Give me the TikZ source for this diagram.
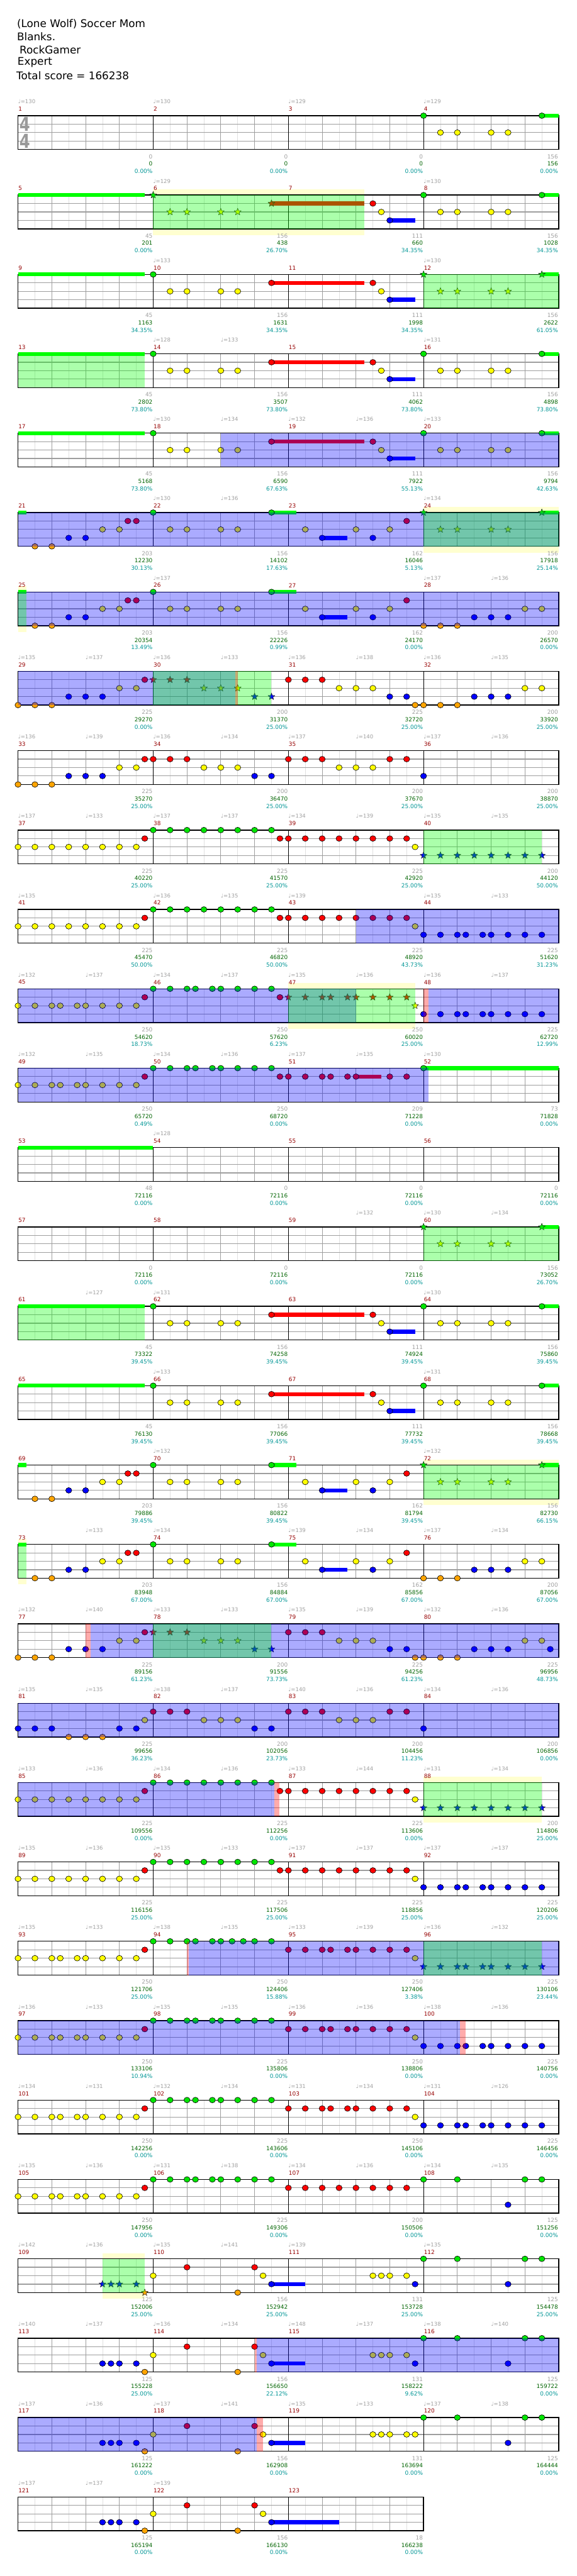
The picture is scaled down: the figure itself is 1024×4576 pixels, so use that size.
\documentclass[tikz,border=0pt]{standalone}
\usepackage{fontspec}
\setmainfont{DejaVu Sans}
\definecolor{lane0}{RGB}{0,230,0}
\definecolor{lane1}{RGB}{255,0,0}
\definecolor{lane2}{RGB}{255,255,0}
\definecolor{lane3}{RGB}{0,0,255}
\definecolor{lane4}{RGB}{255,165,0}
\definecolor{fillgreen}{RGB}{0,255,0}
\definecolor{solobg}{RGB}{255,255,208}
\definecolor{measred}{RGB}{150,0,0}
\definecolor{tempogray}{RGB}{160,160,160}
\definecolor{scoregreen}{RGB}{0,100,0}
\definecolor{pctteal}{RGB}{0,150,150}
% x of an eighth-note slot inside a row (0 = left edge, 8 per measure)
\newcommand{\px}[1]{{32+30*(#1)}}
% staff of a row, #1 = last slot (32 for four measures)
\newcommand{\staff}[1]{%
  \fill[white] (\px{0},0) rectangle (\px{#1},60);
  \foreach \e in {1,3,...,#1} \draw[eighthline] (\px{\e},0) -- (\px{\e},60);
  \foreach \e in {2,4,...,#1} \draw[beatline] (\px{\e},0) -- (\px{\e},60);
  \foreach \y in {15,30,45} \draw[laneline] (\px{0},\y) -- (\px{#1},\y);
  \foreach \e in {8,16,...,#1} \draw[barline] (\px{\e},0) -- (\px{\e},60);
  \draw[staffframe] (\px{0},0) rectangle (\px{#1},60);
}
% gems: #1 = lane (0 green ... 4 orange), #2 = slots
\newcommand{\nts}[2]{\foreach \e in {#2} \filldraw[gem, fill=lane#1] (\px{\e},{15*#1}) ellipse (5.4 and 5);}
\newcommand{\sts}[2]{\foreach \e in {#2} \filldraw[stargem, fill=lane#1] (\px{\e},{15*#1}) +(-90:6.5)
  \foreach \a in {1,...,9} { -- +({-90+36*\a}:{ifthenelse(mod(\a,2)==1,2.7,6.5)}) } -- cycle;}
\newcommand{\sus}[3]{\fill[lane#3] (\px{#1},{15*#3-3.6}) rectangle (\px{#2},{15*#3+3.6});}
\newcommand{\fillbar}[2]{\fill[fillgreen] (\px{#1},-3.4) rectangle (\px{#2},3.4);}
\newcommand{\solo}[2]{\fill[solobg] (\px{#1},-10) rectangle (\px{#2},71);}
\newcommand{\odzone}[2]{\fill[odgreen] (\px{#1},0) rectangle (\px{#2},60);}
\newcommand{\actzone}[2]{\fill[actblue] (\px{#1},0) rectangle (\px{#2},60);}
\newcommand{\missmark}[2]{\fill[endpink] (\px{#1},0) rectangle (\px{#2},60);}
% texts round a row
\newcommand{\measnums}[2]{\foreach \m in {1,...,#2} {\pgfmathtruncatemacro\num{#1+\m-1}
  \node[measnum] (meas-\num) at ({32.5+240*(\m-1)},-11.7) {\num};}}
\newcommand{\tempos}[2]{\foreach \e/\b in {#2} \node[tempo] (bpm-#1-\e) at (\px{\e},-24.7) {♩=\b};}
\newcommand{\scores}[2]{\foreach \s/\t/\p [count=\m] in {#2} {
  \node[scoregain] (gain-#1-\m) at ({31+240*\m},72.5) {\s};
  \node[scoretotal] (total-#1-\m) at ({31+240*\m},85.5) {\t};
  \node[scorepct] (pct-#1-\m) at ({31+240*\m},98.8) {\p};}}

\begin{document}
\begin{tikzpicture}[x=1pt, y=-1pt,
  rowat/.style={shift={(0,{205.5+141*(#1-1)})}},
  eighthline/.style={draw=black!12, line width=0.8pt},
  beatline/.style={draw=black!38, line width=1pt},
  laneline/.style={draw=black!38, line width=1.3pt},
  barline/.style={draw=black, line width=1pt},
  staffframe/.style={draw=black, line width=1.5pt},
  gem/.style={draw=black, line width=0.7pt},
  stargem/.style={draw=black!85, line width=0.6pt, line join=round},
  odgreen/.style={fill=green, fill opacity=0.33},
  actblue/.style={fill=blue, fill opacity=0.33},
  endpink/.style={fill=red, fill opacity=0.33},
  headline/.style={anchor=west, inner sep=0pt, font=\fontsize{18.8}{22}\selectfont},
  measnum/.style={anchor=west, inner sep=0pt, text=measred, font=\fontsize{10}{12}\selectfont},
  tempo/.style={anchor=west, inner sep=0pt, text=tempogray, font=\fontsize{9.5}{11}\selectfont},
  scoregain/.style={anchor=east, inner sep=0pt, text=tempogray, font=\fontsize{10}{12}\selectfont},
  scoretotal/.style={scoregain, text=scoregreen},
  scorepct/.style={scoregain, text=pctteal},
  timesig/.style={inner sep=0pt, text=black!40, font=\fontsize{34}{34}\selectfont\bfseries}]
  \useasboundingbox (0,0) rectangle (1024,4576);
  \fill[white] (0,0) rectangle (1024,4576);
  % ---------------------------------------------------------------- header
  \node[headline] (song) at (30,42.3) {(Lone Wolf) Soccer Mom};
  \node[headline] (band) at (30,65.3) {Blanks.};
  \node[headline] (charter) at (34.5,88.3) {RockGamer};
  \node[headline] (level) at (31,111) {Expert};
  \node[headline] (score) at (29,134.3) {Total score = 166238};
  % ---------------------------------------------------------------- row 1: measures 1-4
  \begin{scope}[rowat=1]
    \staff{32}
    \node[timesig] (sig-top) at (44,15.5) {\scalebox{0.8}[1]{4}};
    \node[timesig] (sig-bottom) at (44,45.5) {\scalebox{0.8}[1]{4}};
    \fillbar{31}{32}
    \nts{0}{24,31} \nts{2}{25,26,28,29}
    \measnums{1}{4}
    \tempos{1}{0/130,8/130,16/129,24/129}
    \scores{1}{0/0/0.00\%,0/0/0.00\%,0/0/0.00\%,156/156/0.00\%}
  \end{scope}
  % ---------------------------------------------------------------- row 2: measures 5-8
  \begin{scope}[rowat=2]
    \solo{8}{20.5}
    \staff{32}
    \fillbar{0}{7.5} \fillbar{31}{32}
    \sus{15}{20.5}{1} \sus{22}{23.5}{3}
    \sts{0}{8} \sts{1}{15} \sts{2}{9,10,12,13}
    \nts{0}{24,31} \nts{1}{21} \nts{2}{21.5,25,26,28,29} \nts{3}{22}
    \odzone{8}{20.5}
    \measnums{5}{4}
    \tempos{2}{8/129,24/130}
    \scores{2}{45/201/0.00\%,156/438/26.70\%,111/660/34.35\%,156/1028/34.35\%}
  \end{scope}
  % ---------------------------------------------------------------- row 3: measures 9-12
  \begin{scope}[rowat=3]
    \staff{32}
    \fillbar{0}{7.5} \fillbar{31}{32}
    \sus{15}{20.5}{1} \sus{22}{23.5}{3}
    \nts{0}{8} \nts{1}{15,21} \nts{2}{9,10,12,13,21.5} \nts{3}{22}
    \sts{0}{24,31} \sts{2}{25,26,28,29}
    \odzone{24}{32}
    \measnums{9}{4}
    \tempos{3}{8/133,24/130}
    \scores{3}{45/1163/34.35\%,156/1631/34.35\%,111/1998/34.35\%,156/2622/61.05\%}
  \end{scope}
  % ---------------------------------------------------------------- row 4: measures 13-16
  \begin{scope}[rowat=4]
    \staff{32}
    \fillbar{0}{7.5} \fillbar{31}{32}
    \sus{15}{20.5}{1} \sus{22}{23.5}{3}
    \nts{0}{8,24,31} \nts{1}{15,21} \nts{2}{9,10,12,13,21.5,25,26,28,29} \nts{3}{22}
    \odzone{0}{7.5}
    \measnums{13}{4}
    \tempos{4}{8/128,12/133,24/131}
    \scores{4}{45/2802/73.80\%,156/3507/73.80\%,111/4062/73.80\%,156/4898/73.80\%}
  \end{scope}
  % ---------------------------------------------------------------- row 5: measures 17-20
  \begin{scope}[rowat=5]
    \staff{32}
    \fillbar{0}{7.5} \fillbar{31}{32}
    \sus{15}{20.5}{1} \sus{22}{23.5}{3}
    \nts{0}{8,24,31} \nts{1}{15,21} \nts{2}{9,10,12,13,21.5,25,26,28,29} \nts{3}{22}
    \actzone{12}{32}
    \measnums{17}{4}
    \tempos{5}{8/130,12/134,16/132,20/136,24/133}
    \scores{5}{45/5168/73.80\%,156/6590/67.63\%,111/7922/55.13\%,156/9794/42.63\%}
  \end{scope}
  % ---------------------------------------------------------------- row 6: measures 21-24
  \begin{scope}[rowat=6]
    \solo{24}{32}
    \staff{32}
    \fillbar{0}{0.48} \fillbar{15}{16.48} \fillbar{31}{32}
    \sus{18}{19.5}{3}
    \nts{0}{8,15} \nts{1}{6.5,7,23} \nts{2}{5,6,9,10,12,13,17,20,22} \nts{3}{3,4,18,21} \nts{4}{1,2}
    \sts{0}{24,31} \sts{2}{25,26,28,29}
    \actzone{0}{32} \odzone{24}{32}
    \measnums{21}{4}
    \tempos{6}{8/130,12/136,24/134}
    \scores{6}{203/12230/30.13\%,156/14102/17.63\%,162/16046/5.13\%,156/17918/25.14\%}
  \end{scope}
  % ---------------------------------------------------------------- row 7: measures 25-28
  \begin{scope}[rowat=7]
    \solo{0}{0.48}
    \staff{32}
    \fillbar{0}{0.48} \fillbar{15}{16.48}
    \sus{18}{19.5}{3}
    \nts{0}{8,15} \nts{1}{6.5,7,23} \nts{2}{5,6,9,10,12,13,17,20,22,30,31}
    \nts{3}{3,4,18,21,27,28,29} \nts{4}{1,2,24,25,26}
    \actzone{0}{32} \odzone{0}{0.48}
    \measnums{25}{4}
    \tempos{7}{8/137,24/137,28/136}
    \scores{7}{203/20354/13.49\%,156/22226/0.99\%,162/24170/0.00\%,200/26570/0.00\%}
  \end{scope}
  % ---------------------------------------------------------------- row 8: measures 29-32
  \begin{scope}[rowat=8]
    \staff{32}
    \nts{1}{7.5,16,17,18} \nts{2}{6,7,19,20,21,30,31}
    \nts{3}{3,4,5,22,23,27,28,29} \nts{4}{0,1,2,23.5,24,25,26}
    \sts{1}{8,9,10} \sts{2}{11,12,13} \sts{3}{14,15}
    \actzone{0}{12.87} \odzone{8}{15} \missmark{12.87}{13}
    \measnums{29}{4}
    \tempos{8}{0/135,4/137,8/136,12/133,16/136,20/138,24/136,28/135}
    \scores{8}{225/29270/0.00\%,200/31370/25.00\%,225/32720/25.00\%,200/33920/25.00\%}
  \end{scope}
  % ---------------------------------------------------------------- row 9: measures 33-36
  \begin{scope}[rowat=9]
    \staff{32}
    \nts{1}{7.5,8,9,10,16,17,18,22,23} \nts{2}{6,7,11,12,13,19,20,21}
    \nts{3}{3,4,5,14,15,24,...,31} \nts{4}{0,1,2}
    \measnums{33}{4}
    \tempos{9}{0/136,4/139,8/136,12/134,16/137,20/140,24/137,28/136}
    \scores{9}{225/35270/25.00\%,200/36470/25.00\%,200/37670/25.00\%,200/38870/25.00\%}
  \end{scope}
  % ---------------------------------------------------------------- row 10: measures 37-40
  \begin{scope}[rowat=10]
    \staff{32}
    \nts{0}{8,...,15} \nts{1}{7.5,15.5,16,17,18,19,20,21,22,23} \nts{2}{0,...,7,23.5}
    \sts{3}{24,...,31}
    \odzone{24}{31}
    \measnums{37}{4}
    \tempos{10}{0/137,4/133,8/137,12/137,16/134,20/139,24/135,28/135}
    \scores{10}{225/40220/25.00\%,225/41570/25.00\%,225/42920/25.00\%,200/44120/50.00\%}
  \end{scope}
  % ---------------------------------------------------------------- row 11: measures 41-44
  \begin{scope}[rowat=11]
    \staff{32}
    \nts{0}{8,...,15} \nts{1}{7.5,15.5,16,17,18,19,20,21,22,23} \nts{2}{0,...,7,23.5}
    \nts{3}{24,25,26,26.5,27.5,28,29,30,31}
    \actzone{20}{32}
    \measnums{41}{4}
    \tempos{11}{0/135,8/136,12/135,16/139,24/135,28/133}
    \scores{11}{225/45470/50.00\%,225/46820/50.00\%,225/48920/43.73\%,225/51620/31.23\%}
  \end{scope}
  % ---------------------------------------------------------------- row 12: measures 45-48
  \begin{scope}[rowat=12]
    \solo{16}{23.5}
    \staff{32}
    \nts{0}{8,9,10,10.5,11.5,12,13,14,15} \nts{1}{7.5,15.5} \nts{2}{0,1,2,2.5,3.5,4,5,6,7}
    \nts{3}{24,25,26,26.5,27.5,28,29,30,31}
    \sts{1}{16,17,18,18.5,19.5,20,21,22,23} \sts{2}{23.5}
    \actzone{0}{20} \odzone{16}{23.5} \missmark{24}{24.28} \actzone{24.28}{32}
    \measnums{45}{4}
    \tempos{12}{0/132,4/137,8/134,12/137,16/135,20/136,24/136,28/137}
    \scores{12}{250/54620/18.73\%,250/57620/6.23\%,250/60020/25.00\%,225/62720/12.99\%}
  \end{scope}
  % ---------------------------------------------------------------- row 13: measures 49-52
  \begin{scope}[rowat=13]
    \staff{32}
    \fillbar{24}{32}
    \sus{20}{21.5}{1}
    \nts{0}{8,9,10,10.5,11.5,12,13,14,15,24} \nts{1}{7.5,15.5,16,17,18,18.5,19.5,20,22,23}
    \nts{2}{0,1,2,2.5,3.5,4,5,6,7}
    \actzone{0}{24.28}
    \measnums{49}{4}
    \tempos{13}{0/132,4/135,8/134,12/136,16/137,20/135,24/130}
    \scores{13}{250/65720/0.49\%,250/68720/0.00\%,209/71228/0.00\%,73/71828/0.00\%}
  \end{scope}
  % ---------------------------------------------------------------- row 14: measures 53-56
  \begin{scope}[rowat=14]
    \staff{32}
    \fillbar{0}{8}
    \measnums{53}{4}
    \tempos{14}{8/128}
    \scores{14}{48/72116/0.00\%,0/72116/0.00\%,0/72116/0.00\%,0/72116/0.00\%}
  \end{scope}
  % ---------------------------------------------------------------- row 15: measures 57-60
  \begin{scope}[rowat=15]
    \staff{32}
    \fillbar{31}{32}
    \sts{0}{24,31} \sts{2}{25,26,28,29}
    \odzone{24}{32}
    \measnums{57}{4}
    \tempos{15}{20/132,24/130,28/134}
    \scores{15}{0/72116/0.00\%,0/72116/0.00\%,0/72116/0.00\%,156/73052/26.70\%}
  \end{scope}
  % ---------------------------------------------------------------- row 16: measures 61-64
  \begin{scope}[rowat=16]
    \staff{32}
    \fillbar{0}{7.5} \fillbar{31}{32}
    \sus{15}{20.5}{1} \sus{22}{23.5}{3}
    \nts{0}{8,24,31} \nts{1}{15,21} \nts{2}{9,10,12,13,21.5,25,26,28,29} \nts{3}{22}
    \odzone{0}{7.5}
    \measnums{61}{4}
    \tempos{16}{4/127,8/131,24/130}
    \scores{16}{45/73322/39.45\%,156/74258/39.45\%,111/74924/39.45\%,156/75860/39.45\%}
  \end{scope}
  % ---------------------------------------------------------------- row 17: measures 65-68
  \begin{scope}[rowat=17]
    \staff{32}
    \fillbar{0}{7.5} \fillbar{31}{32}
    \sus{15}{20.5}{1} \sus{22}{23.5}{3}
    \nts{0}{8,24,31} \nts{1}{15,21} \nts{2}{9,10,12,13,21.5,25,26,28,29} \nts{3}{22}
    \measnums{65}{4}
    \tempos{17}{8/133,24/131}
    \scores{17}{45/76130/39.45\%,156/77066/39.45\%,111/77732/39.45\%,156/78668/39.45\%}
  \end{scope}
  % ---------------------------------------------------------------- row 18: measures 69-72
  \begin{scope}[rowat=18]
    \solo{24}{32}
    \staff{32}
    \fillbar{0}{0.48} \fillbar{15}{16.48} \fillbar{31}{32}
    \sus{18}{19.5}{3}
    \nts{0}{8,15} \nts{1}{6.5,7,23} \nts{2}{5,6,9,10,12,13,17,20,22} \nts{3}{3,4,18,21} \nts{4}{1,2}
    \sts{0}{24,31} \sts{2}{25,26,28,29}
    \odzone{24}{32}
    \measnums{69}{4}
    \tempos{18}{8/132,24/132}
    \scores{18}{203/79886/39.45\%,156/80822/39.45\%,162/81794/39.45\%,156/82730/66.15\%}
  \end{scope}
  % ---------------------------------------------------------------- row 19: measures 73-76
  \begin{scope}[rowat=19]
    \solo{0}{0.48}
    \staff{32}
    \fillbar{0}{0.48} \fillbar{15}{16.48}
    \sus{18}{19.5}{3}
    \nts{0}{8,15} \nts{1}{6.5,7,23} \nts{2}{5,6,9,10,12,13,17,20,22,30,31}
    \nts{3}{3,4,18,21,27,28,29} \nts{4}{1,2,24,25,26}
    \odzone{0}{0.48}
    \measnums{73}{4}
    \tempos{19}{4/133,8/134,16/139,20/134,24/137,28/134}
    \scores{19}{203/83948/67.00\%,156/84884/67.00\%,162/85856/67.00\%,200/87056/67.00\%}
  \end{scope}
  % ---------------------------------------------------------------- row 20: measures 77-80
  \begin{scope}[rowat=20]
    \staff{32}
    \nts{1}{7.5,16,17,18} \nts{2}{6,7,19,20,21,30,31}
    \nts{3}{3,4,5,22,23,27,28,29,31.5} \nts{4}{0,1,2,23.5,24,25,26}
    \sts{1}{8,9,10} \sts{2}{11,12,13} \sts{3}{14,15}
    \missmark{4}{4.28} \actzone{4.28}{32} \odzone{8}{15}
    \measnums{77}{4}
    \tempos{20}{0/132,4/140,8/133,12/133,16/135,20/139,24/132,28/136}
    \scores{20}{225/89156/61.23\%,200/91556/73.73\%,225/94256/61.23\%,225/96956/48.73\%}
  \end{scope}
  % ---------------------------------------------------------------- row 21: measures 81-84
  \begin{scope}[rowat=21]
    \staff{32}
    \nts{1}{8,9,10,16,17,18,22,23} \nts{2}{7.5,11,12,13,19,20,21}
    \nts{3}{0,1,2,6,7,14,15,24,...,31} \nts{4}{3,4,5}
    \actzone{0}{32}
    \measnums{81}{4}
    \tempos{21}{0/135,4/135,8/138,12/137,16/140,20/136,24/134,28/136}
    \scores{21}{225/99656/36.23\%,200/102056/23.73\%,200/104456/11.23\%,200/106856/0.00\%}
  \end{scope}
  % ---------------------------------------------------------------- row 22: measures 85-88
  \begin{scope}[rowat=22]
    \solo{24}{31}
    \staff{32}
    \nts{0}{8,...,15} \nts{1}{7.5,15.5,16,17,18,19,20,21,22,23} \nts{2}{0,...,7,23.5}
    \sts{3}{24,...,31}
    \actzone{0}{15.17} \missmark{15.17}{15.46} \odzone{24}{31}
    \measnums{85}{4}
    \tempos{22}{0/133,4/136,8/134,12/136,16/133,20/144,24/131,28/134}
    \scores{22}{225/109556/0.00\%,225/112256/0.00\%,225/113606/0.00\%,200/114806/25.00\%}
  \end{scope}
  % ---------------------------------------------------------------- row 23: measures 89-92
  \begin{scope}[rowat=23]
    \staff{32}
    \nts{0}{8,...,15} \nts{1}{7.5,15.5,16,17,18,19,20,21,22,23} \nts{2}{0,...,7,23.5}
    \nts{3}{24,25,26,26.5,27.5,28,29,30,31}
    \measnums{89}{4}
    \tempos{23}{0/135,4/136,8/135,12/133,16/137,20/137,24/137,28/137}
    \scores{23}{225/116156/25.00\%,225/117506/25.00\%,225/118856/25.00\%,225/120206/25.00\%}
  \end{scope}
  % ---------------------------------------------------------------- row 24: measures 93-96
  \begin{scope}[rowat=24]
    \staff{32}
    \nts{0}{8,9,10,10.5,11.5,12,12.667,13.333,14,15} \nts{1}{7.5,16,17,18,18.5,19.5,20,21,22,23}
    \nts{2}{0,1,2,2.5,3.5,4,5,6,7,23.5}
    \sts{3}{24,25,26,26.5,27.5,28,29,30,31}
    \missmark{10}{10.12} \actzone{10.12}{32} \odzone{24}{31}
    \measnums{93}{4}
    \tempos{24}{0/135,4/133,8/138,12/135,16/133,20/139,24/136,28/132}
    \scores{24}{250/121706/25.00\%,250/124406/15.88\%,250/127406/3.38\%,225/130106/23.44\%}
  \end{scope}
  % ---------------------------------------------------------------- row 25: measures 97-100
  \begin{scope}[rowat=25]
    \staff{32}
    \nts{0}{8,9,10,10.5,11.5,12,13,14,15} \nts{1}{7.5,16,17,18,18.5,19.5,20,21,22,23}
    \nts{2}{0,1,2,2.5,3.5,4,5,6,7,23.5} \nts{3}{24,25,26,26.5,27.5,28,29,30,31}
    \actzone{0}{26.16} \missmark{26.16}{26.5}
    \measnums{97}{4}
    \tempos{25}{0/136,4/133,8/135,12/135,16/136,20/136,24/138,28/136}
    \scores{25}{250/133106/10.94\%,225/135806/0.00\%,250/138806/0.00\%,225/140756/0.00\%}
  \end{scope}
  % ---------------------------------------------------------------- row 26: measures 101-104
  \begin{scope}[rowat=26]
    \staff{32}
    \nts{0}{8,9,10,10.5,11.5,12,13,14,15} \nts{1}{7.5,16,17,18,18.5,19.5,20,21,22,23}
    \nts{2}{0,1,2,2.5,3.5,4,5,6,7,23.5} \nts{3}{24,25,26,26.5,27.5,28,29,30,31}
    \measnums{101}{4}
    \tempos{26}{0/134,4/131,8/132,12/134,16/131,20/134,24/131,28/126}
    \scores{26}{250/142256/0.00\%,225/143606/0.00\%,250/145106/0.00\%,225/146456/0.00\%}
  \end{scope}
  % ---------------------------------------------------------------- row 27: measures 105-108
  \begin{scope}[rowat=27]
    \staff{32}
    \nts{0}{8,9,10,10.5,11.5,12,13,14,15,24,26,30,31} \nts{1}{7.5,16,17,18,19,20,21,22,23}
    \nts{2}{0,1,2,2.5,3.5,4,5,6,7} \nts{3}{29}
    \measnums{105}{4}
    \tempos{27}{0/135,4/136,8/131,12/138,16/134,20/136,24/134,28/135}
    \scores{27}{250/147956/0.00\%,225/149306/0.00\%,200/150506/0.00\%,125/151256/0.00\%}
  \end{scope}
  % ---------------------------------------------------------------- row 28: measures 109-112
  \begin{scope}[rowat=28]
    \solo{5}{7.5}
    \staff{32}
    \sus{15}{17}{3}
    \nts{0}{24,26,30,31} \nts{1}{10,14} \nts{2}{8,14.5,21,21.5,22,23} \nts{3}{15,23.5,29} \nts{4}{13}
    \sts{3}{5,5.5,6,7} \sts{4}{7.5}
    \odzone{5}{7.5}
    \measnums{109}{4}
    \tempos{28}{0/142,4/136,8/135,12/141,16/139,24/135}
    \scores{28}{125/152006/25.00\%,156/152942/25.00\%,131/153728/25.00\%,125/154478/25.00\%}
  \end{scope}
  % ---------------------------------------------------------------- row 29: measures 113-116
  \begin{scope}[rowat=29]
    \staff{32}
    \sus{15}{17}{3}
    \nts{0}{24,26,30,31} \nts{1}{10,14} \nts{2}{8,14.5,21,21.5,22,23}
    \nts{3}{5,5.5,6,7,15,23.5,29} \nts{4}{7.5,13}
    \missmark{14}{14.13} \actzone{14.13}{32}
    \measnums{113}{4}
    \tempos{29}{0/140,4/137,8/136,12/134,16/148,20/137,24/138,28/140}
    \scores{29}{125/155228/25.00\%,156/156650/22.12\%,131/158222/9.62\%,125/159722/0.00\%}
  \end{scope}
  % ---------------------------------------------------------------- row 30: measures 117-120
  \begin{scope}[rowat=30]
    \staff{32}
    \sus{15}{17}{3}
    \nts{0}{24,26,30,31} \nts{1}{10,14} \nts{2}{8,14.5,21,21.5,22,23,23.5}
    \nts{3}{5,5.5,6,7,15,29} \nts{4}{7.5,13}
    \actzone{0}{14.13} \missmark{14.13}{14.5}
    \measnums{117}{4}
    \tempos{30}{0/137,4/136,8/137,12/141,16/135,20/133,24/137,28/138}
    \scores{30}{125/161222/0.00\%,156/162908/0.00\%,131/163694/0.00\%,125/164444/0.00\%}
  \end{scope}
  % ---------------------------------------------------------------- row 31: measures 121-123
  \begin{scope}[rowat=31]
    \staff{24}
    \sus{15}{19}{3}
    \nts{1}{10,14} \nts{2}{8,14.5} \nts{3}{5,5.5,6,7,15} \nts{4}{7.5,13}
    \measnums{121}{3}
    \tempos{31}{0/137,4/137,8/139}
    \scores{31}{125/165194/0.00\%,156/166130/0.00\%,18/166238/0.00\%}
  \end{scope}
\end{tikzpicture}
\end{document}
